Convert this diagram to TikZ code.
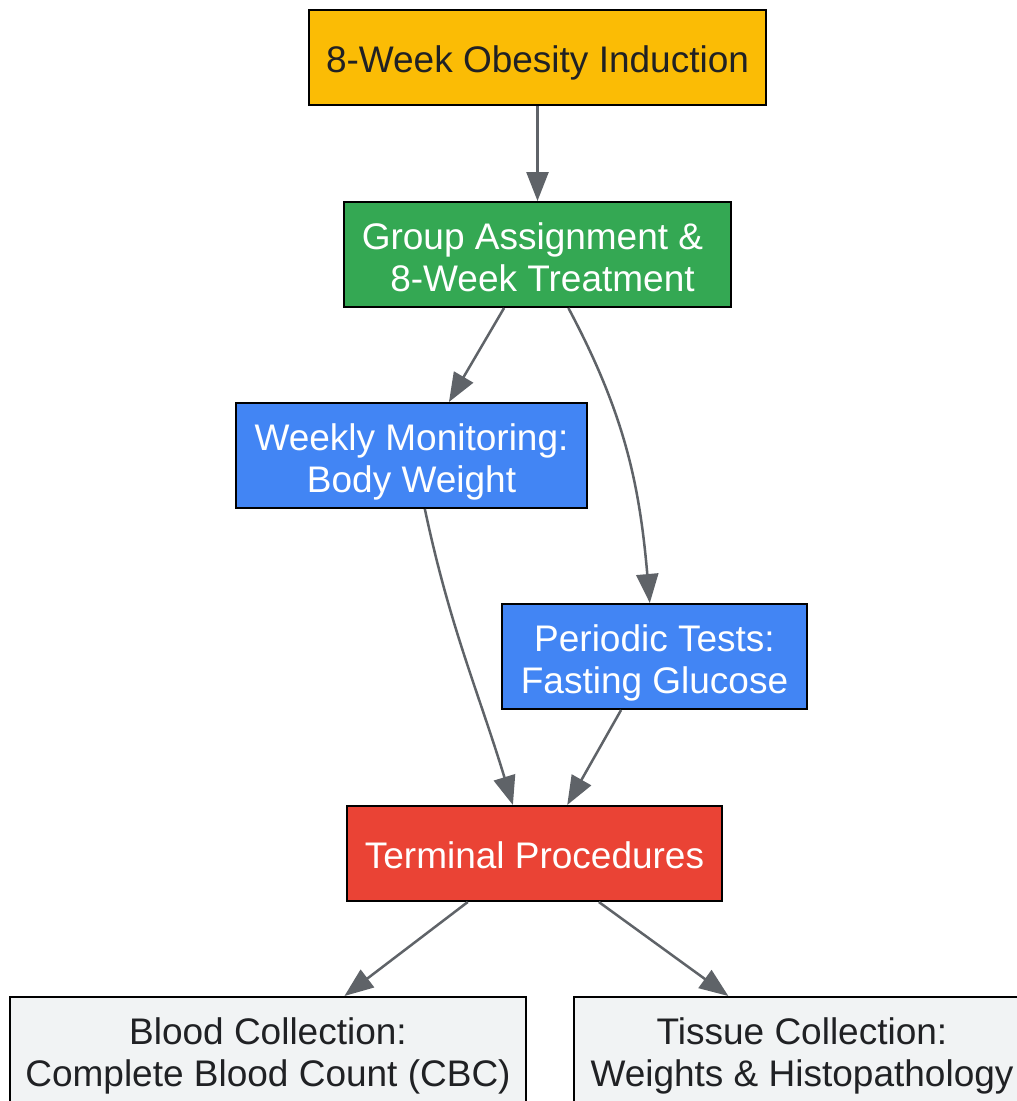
\documentclass[tikz,border=0pt]{standalone}
\usepackage{fontspec}
\setmainfont{Liberation Sans}
\usepackage{tikz}
\usetikzlibrary{positioning,arrows.meta}
\definecolor{gyellow}{HTML}{FBBC05}
\definecolor{ggreen}{HTML}{34A853}
\definecolor{gblue}{HTML}{4285F4}
\definecolor{gred}{HTML}{EA4335}
\definecolor{glight}{HTML}{F1F3F4}
\definecolor{gline}{HTML}{5F6368}
\definecolor{gtext}{HTML}{202124}
\tikzset{%
  flowarrow/.style = {-{Triangle[length=29pt,width=22pt]},draw=gline,
        line width=2.5pt},
  b/.style = {rectangle,draw=black,line width=2pt,inner sep=0pt,
        align=center,font=\fontsize{37}{42}\selectfont,
        text height=29pt,text depth=0pt},
  bb/.style = {b,text height=73pt}
}

\begin{document}
\begin{tikzpicture}[x=1pt,y=1pt]
\useasboundingbox (0,0) rectangle (1017,-1101);
\fill[white] (0,0) rectangle (1017,-1101);
\clip (0,0) rectangle (1017,-1101);
\node[b,fill=gyellow,text=gtext,minimum width=457pt,minimum height=95pt]
    (induct) at (537.5,-57.5) {8-Week Obesity Induction};
\node[bb,fill=ggreen,text=white,minimum width=387pt,minimum height=105pt]
    (assign) at (537.5,-254.5)
    {Group Assignment \&\hspace*{10pt}\\\hspace*{10pt}8-Week Treatment};
\node[bb,fill=gblue,text=white,minimum width=351pt,minimum height=105pt]
    (weekly) at (411.5,-455.5) {Weekly Monitoring:\\Body Weight};
\node[bb,fill=gblue,text=white,minimum width=305pt,minimum height=105pt]
    (periodic) at (654.5,-656.5) {Periodic Tests:\\Fasting Glucose};
\node[b,fill=gred,text=white,minimum width=375pt,minimum height=95pt]
    (terminal) at (534.5,-853.5) {Terminal Procedures};
\node[bb,fill=glight,text=gtext,minimum width=516pt,minimum height=105pt]
    (blood) at (268,-1049.5) {Blood Collection:\\Complete Blood Count (CBC)};
\node[bb,fill=glight,text=gtext,minimum width=456pt,minimum height=105pt]
    (tissue) at (802,-1049.5) {Tissue Collection:\\Weights \& Histopathology};

\draw[flowarrow] (induct) -- (assign);
\draw[flowarrow] (assign.-122) -- (weekly.55);
\draw[flowarrow] (assign.-60) to[out=-62,in=95] (periodic.95);
\draw[flowarrow] (weekly.-76) to[out=-78,in=107] (terminal.114);
\draw[flowarrow] (periodic.-122) -- (terminal.56);
\draw[flowarrow] (terminal.-144) -- (blood.35);
\draw[flowarrow] (terminal.-37) -- (tissue.144);
\end{tikzpicture}
\end{document}
